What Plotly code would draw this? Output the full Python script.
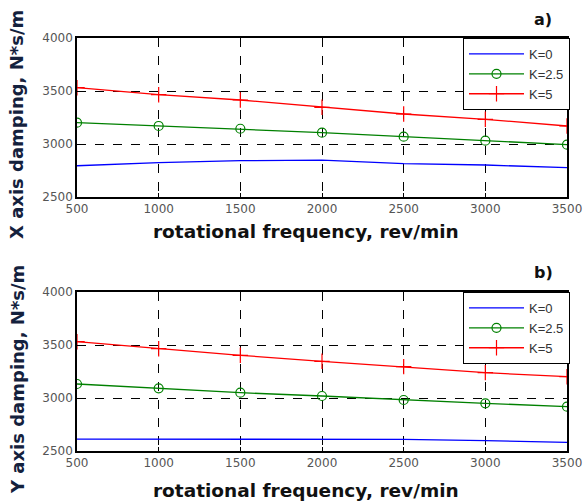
import plotly.graph_objects as go

freq = [500, 1000, 1500, 2000, 2500, 3000, 3500]
x_k0 = [2795, 2824, 2843, 2847, 2814, 2802, 2777]
x_k25 = [3201, 3170, 3144, 3107, 3069, 3031, 2994]
x_k5 = [3531, 3465, 3415, 3346, 3283, 3233, 3170]
y_k0 = [2612, 2612, 2612, 2612, 2610, 2597, 2582]
y_k25 = [3132, 3091, 3050, 3019, 2981, 2950, 2918]
y_k5 = [3531, 3465, 3403, 3346, 3296, 3239, 3201]
names = ["K=0", "K=2.5", "K=5"]
x_ticks = [500, 1000, 1500, 2000, 2500, 3000, 3500]
y_ticks = [2500, 3000, 3500, 4000]

W, H = 585, 503
fig = go.Figure()

def px(v):
    return v / W

def py(v):
    return 1 - v / H

styles = [
    dict(color="#0000ff", marker=None),
    dict(color="#008000", marker=dict(symbol="circle-open", size=9, line=dict(width=1.2, color="#008000"))),
    dict(color="#ff0000", marker=dict(symbol="cross-thin-open", size=11, line=dict(width=1.2, color="#ff0000"))),
]

panels = [
    (("x", "y"), "legend", [x_k0, x_k25, x_k5]),
    (("x2", "y2"), "legend2", [y_k0, y_k25, y_k5]),
]
for (xa, ya), lg, series in panels:
    for name, vals, st in zip(names, series, styles):
        mode = "lines" if st["marker"] is None else "lines+markers"
        kw = dict(x=freq, y=vals, name=name, mode=mode, xaxis=xa, yaxis=ya,
                  line=dict(color=st["color"], width=1.3), legend=lg)
        if st["marker"] is not None:
            kw["marker"] = st["marker"]
        fig.add_trace(go.Scatter(**kw))

tickfont = dict(family="DejaVu Sans", size=12, color="#555555")
axis_common = dict(showline=True, mirror=True, linecolor="black", linewidth=1.5,
                   showgrid=True, gridcolor="black", griddash="dash", gridwidth=1,
                   zeroline=False, ticks="inside", ticklen=4, tickcolor="black",
                   tickfont=tickfont, automargin=False, ticklabeloverflow="allow")

legend_common = dict(xanchor="left", yanchor="top",
                     bgcolor="white", bordercolor="black", borderwidth=1,
                     font=dict(family="Liberation Sans", size=13, color="#333333"),
                     tracegroupgap=0, itemwidth=55)

fig.update_layout(
    width=W, height=H, margin=dict(l=0, r=0, t=0, b=0, autoexpand=False),
    paper_bgcolor="white", plot_bgcolor="white",
    xaxis=dict(domain=[px(77), px(567)], anchor="y", range=[500, 3500],
               tickvals=x_ticks, **axis_common),
    yaxis=dict(domain=[py(197), py(38)], anchor="x", range=[2500, 4000],
               tickvals=y_ticks, **axis_common),
    xaxis2=dict(domain=[px(77), px(567)], anchor="y2", range=[500, 3500],
                tickvals=x_ticks, **axis_common),
    yaxis2=dict(domain=[py(451), py(292)], anchor="x2", range=[2500, 4000],
                tickvals=y_ticks, **axis_common),
    legend=dict(x=px(463), y=py(38), **legend_common),
    legend2=dict(x=px(463), y=py(292), **legend_common),
    showlegend=True,
)

title_font = dict(family="DejaVu Sans", size=18, color="#14213d", weight="bold")
xt_font = dict(family="DejaVu Sans", size=18.5, color="#111111", weight="bold")
lab_font = dict(family="DejaVu Sans", size=16, color="#111111", weight="bold")
ann = [
    dict(text="X axis damping, N*s/m", x=px(17), y=py(125), textangle=-90, font=title_font),
    dict(text="Y axis damping, N*s/m", x=px(17), y=py(380), textangle=-90, font=title_font),
    dict(text="rotational frequency, rev/min", x=px(306), y=py(231), font=xt_font),
    dict(text="rotational frequency, rev/min", x=px(306), y=py(490), font=xt_font),
    dict(text="a)", x=px(543), y=py(20), font=lab_font),
    dict(text="b)", x=px(543), y=py(272), font=lab_font),
]
for a in ann:
    fig.add_annotation(xref="paper", yref="paper", showarrow=False,
                       xanchor="center", yanchor="middle", **a)

fig.write_html("out.html", config={"displayModeBar": False},
               post_script="document.body.style.margin='0px';document.body.style.overflow='hidden';")
